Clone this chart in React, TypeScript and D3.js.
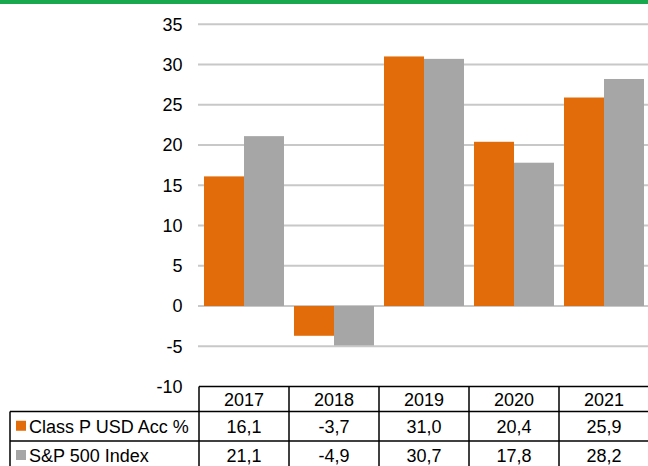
import React from "react";
import * as d3 from "d3";

const years = ["2017", "2018", "2019", "2020", "2021"];
const classP = [16.1, -3.7, 31.0, 20.4, 25.9];
const sp500 = [21.1, -4.9, 30.7, 17.8, 28.2];
const seriesNames = ["Class P USD Acc %", "S&P 500 Index"];
const yTicks = [35, 30, 25, 20, 15, 10, 5, 0, -5, -10];

const W = 648;
const H = 466;
const ORANGE = "#e36c0a";
const GRAY = "#a6a6a6";
const FONT = "'Liberation Sans', Arial, sans-serif";

const fmt = (v: number) => v.toFixed(1).replace(".", ",");

export default function App() {
  const x = d3.scaleBand<string>().domain(years).range([199, 649]).paddingInner(0).paddingOuter(0);
  const y = d3.scaleLinear().domain([-10, 35]).range([386.5, 24.25]);
  const inner = d3.scaleBand<number>().domain([0, 1]).range([5, x.bandwidth() - 5]).padding(0);
  const series = [classP, sp500];
  const colors = [ORANGE, GRAY];

  const tableTop = y(-10);
  const rowTops = [tableTop, 411.5, 441, 470];
  const colEdges = [...years.map((yr) => x(yr)!), 649];

  return (
    <svg
      width={W}
      height={H}
      style={{ position: "absolute", left: 0, top: 0, background: "#fff" }}
      fontFamily={FONT}
    >
      <rect x={0} y={0} width={W} height={4} fill="#1aa84f" />
      {yTicks.filter((t) => t > -10).map((t) => (
        <line key={t} x1={198} x2={W} y1={y(t)} y2={y(t)} stroke="#c8c8c8" strokeWidth={2} />
      ))}
      {yTicks.map((t) => (
        <text key={"l" + t} x={182.5} y={y(t)} dy="0.35em" textAnchor="end" fontSize={18} fill="#000">
          {t}
        </text>
      ))}
      {series.map((vals, si) =>
        vals.map((v, i) => {
          const x0 = x(years[i])! + inner(si)!;
          const y0 = Math.min(y(v), y(0));
          const h = Math.abs(y(v) - y(0));
          return (
            <rect key={si + "-" + i} x={x0} y={y0} width={inner.bandwidth()} height={h} fill={colors[si]} />
          );
        })
      )}
      <g stroke="#000" strokeWidth={1.5}>
        <line x1={199} x2={W} y1={rowTops[0]} y2={rowTops[0]} />
        <line x1={10} x2={W} y1={rowTops[1]} y2={rowTops[1]} />
        <line x1={10} x2={W} y1={rowTops[2]} y2={rowTops[2]} />
        <line x1={10} x2={10} y1={rowTops[1]} y2={H} />
        {colEdges.map((cx, i) => (
          <line key={"c" + i} x1={cx} x2={cx} y1={rowTops[0]} y2={H} />
        ))}
      </g>
      {years.map((yr) => (
        <text key={"h" + yr} x={x(yr)! + x.bandwidth() / 2} y={(rowTops[0] + rowTops[1]) / 2 + 0.5} dy="0.35em" textAnchor="middle" fontSize={18}>
          {yr}
        </text>
      ))}
      {series.map((vals, si) => (
        <g key={"row" + si}>
          <rect x={16} y={(rowTops[si + 1] + rowTops[si + 2]) / 2 - 5.5} width={10} height={10} fill={colors[si]} />
          <text x={29} y={(rowTops[si + 1] + rowTops[si + 2]) / 2} dy="0.35em" fontSize={18}>
            {seriesNames[si]}
          </text>
          {vals.map((v, i) => (
            <text key={i} x={x(years[i])! + x.bandwidth() / 2} y={(rowTops[si + 1] + rowTops[si + 2]) / 2} dy="0.35em" textAnchor="middle" fontSize={18}>
              {fmt(v)}
            </text>
          ))}
        </g>
      ))}
    </svg>
  );
}
